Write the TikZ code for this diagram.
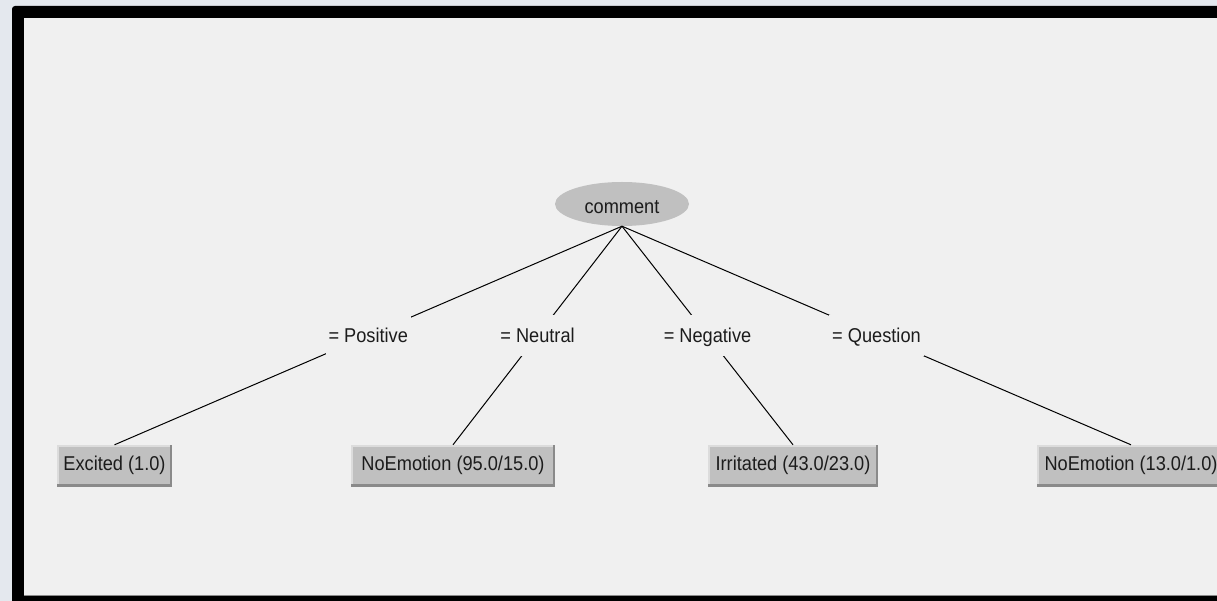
\documentclass[tikz,border=0pt]{standalone}
\usepackage{fontspec}
\usetikzlibrary{shapes.geometric}
\newfontfamily\wf[FakeStretch=0.91]{Liberation Sans}
\definecolor{outerbg}{HTML}{E4E8EE}
\definecolor{panel}{HTML}{F0F0F0}
\definecolor{nodegray}{HTML}{C0C0C0}
\definecolor{bevdark}{HTML}{8A8A8A}
\definecolor{bevlight}{HTML}{DCDCDC}
\definecolor{txt}{HTML}{1C1C1C}
\tikzset{
  wtext/.style={font=\wf\fontsize{20}{24}\selectfont, text=txt},
  rootnode/.style={wtext, ellipse, fill=nodegray, inner sep=0pt,
    text height=20pt, text depth=0pt,
    minimum width=134pt, minimum height=44pt},
  leafbox/.style={wtext, rectangle, fill=nodegray, inner sep=0pt,
    text height=14pt, text depth=4.6pt,
    minimum height=42pt,
    path picture={
      \fill[bevlight] (path picture bounding box.north west) rectangle ([yshift=-1.5pt]path picture bounding box.north east);
      \fill[bevlight] (path picture bounding box.north west) rectangle ([xshift=1.5pt]path picture bounding box.south west);
      \fill[bevdark] (path picture bounding box.south west) rectangle ([yshift=3pt]path picture bounding box.south east);
      \fill[bevdark] ([xshift=-2pt]path picture bounding box.north east) rectangle (path picture bounding box.south east);
    }},
  edgelabel/.style={wtext, fill=panel, inner xsep=3pt, inner ysep=0pt,
    text height=15pt, text depth=1.6pt, minimum height=40pt},
  edge/.style={draw=black, line width=1pt}
}
\begin{document}
\begin{tikzpicture}[x=1pt, y=-1pt]
\useasboundingbox (0,0) rectangle (1217,601);
\clip (0,0) rectangle (1217,601);
% background and frame
\fill[outerbg] (0,0) rectangle (1217,601);
\fill[black, rounded corners=3pt] (12,6) rectangle (1250,640);
\fill[panel] (24,18) rectangle (1250,596);
\draw[bevdark, line width=1pt] (24,595) -- (1250,595);
% nodes
\node[rootnode] (root) at (622,204) {comment};
\node[leafbox, minimum width=115pt] (l1) at (114.5,466) {Excited (1.0)};
\node[leafbox, minimum width=204pt] (l2) at (453,466) {NoEmotion (95.0/15.0)};
\node[leafbox, minimum width=170pt] (l3) at (793,466) {Irritated (43.0/23.0)};
\node[leafbox, minimum width=188pt] (l4) at (1131,466) {NoEmotion (13.0/1.0)};
% edges with labels
\draw[edge] (root.south) -- node[edgelabel] (e1) {= Positive} (l1.north);
\draw[edge] (root.south) -- node[edgelabel] (e2) {= Neutral} (l2.north);
\draw[edge] (root.south) -- node[edgelabel] (e3) {= Negative} (l3.north);
\draw[edge] (root.south) -- node[edgelabel] (e4) {= Question} (l4.north);
\end{tikzpicture}
\end{document}
